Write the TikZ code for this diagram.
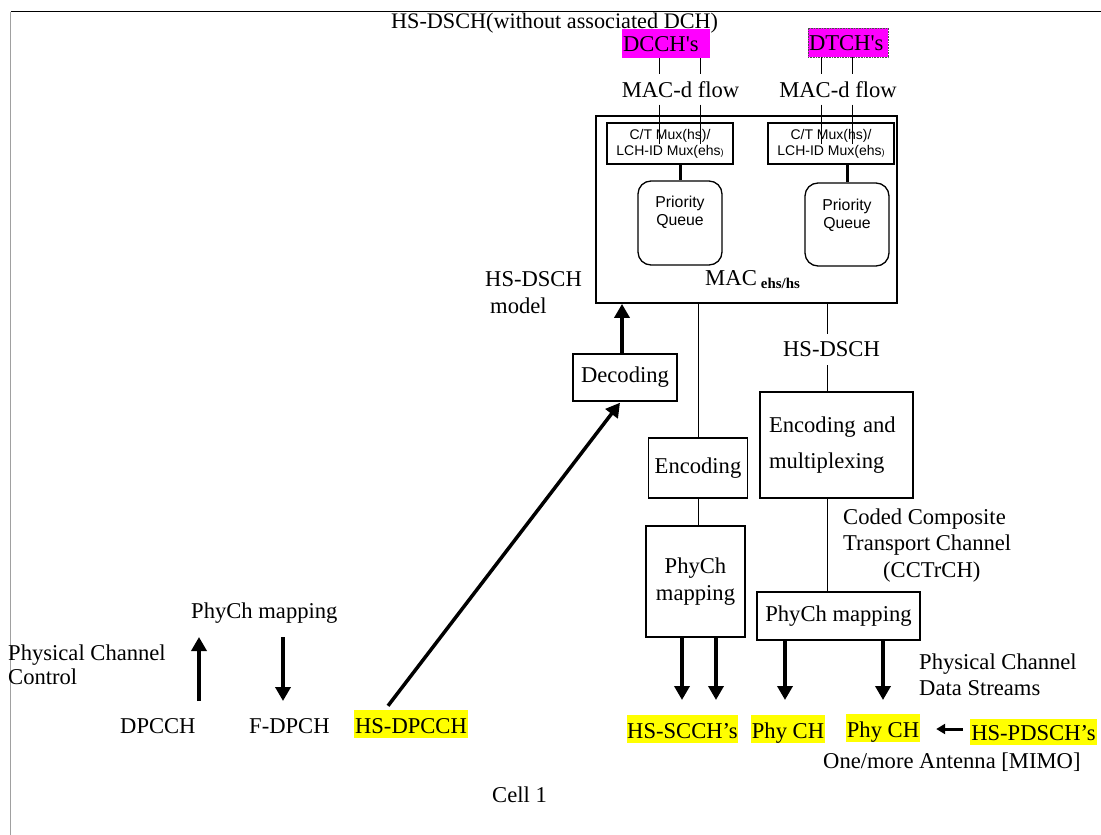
\documentclass[tikz,border=0pt]{standalone}
\usepackage{fontspec}
\setmainfont{Liberation Serif}
\newfontfamily\sansf{Liberation Sans}
\usetikzlibrary{arrows.meta,calc}
\newcommand{\fmain}{\fontsize{22.6}{26}\selectfont}
\newcommand{\fct}{\sansf\fontsize{14}{16}\selectfont}
\newcommand{\fpq}{\sansf\fontsize{15.8}{18}\selectfont}
\definecolor{framegray}{HTML}{A0A0A0}
\definecolor{hlmag}{RGB}{255,0,255}
\definecolor{hlyel}{RGB}{255,255,0}
\begin{document}
\begin{tikzpicture}[x=1pt,y=-1pt,
  txt/.style={inner sep=0pt, font=\fmain},
  box/.style={draw, line width=1.4pt, inner sep=0pt},
  pq/.style={draw, line width=1.3pt, rounded corners=13pt, minimum width=84pt, minimum height=84pt, inner sep=0pt},
  conn/.style={line width=1pt},
  heavy/.style={line width=3pt},
  arr/.style={line width=3.5pt, -{Triangle[length=14pt,width=15pt]}},
  sarr/.style={line width=3pt, -{Triangle[length=9pt,width=10pt]}},
  ylw/.style={fill=hlyel, inner sep=0pt, text height=23pt, text depth=5pt, font=\fmain},
  mag/.style={fill=hlmag, inner xsep=1pt, inner ysep=0pt, text height=22.5pt, text depth=6.5pt, align=left, font=\fmain}]
\useasboundingbox (0,0) rectangle (1101,835);
% frame
\coordinate (ftl) at (10.5,11.5);
\coordinate (ftr) at (1101,11.5);
\coordinate (fbl) at (10.5,835);
\draw[line width=1.2pt] (ftl) -- (ftr);
\draw[line width=1.1pt, framegray] (ftl) -- (fbl);
% title
\node[txt, anchor=base west, font=\fontsize{22.2}{26}\selectfont] (title) at (391,28) {HS-DSCH(without associated DCH)};
% logical channels
\node[mag, text width=86pt] (dcch) at (666,43.5) {DCCH\textquotesingle s};
\node[mag, text width=78pt, draw=black!70, densely dotted, line width=0.6pt] (dtch) at (848,42.5) {DTCH\textquotesingle s};
\node[txt, inner ysep=7pt] (mdfL) at (680.5,89.3) {MAC-d flow};
\node[txt, inner ysep=7pt] (mdfR) at (838,89.3) {MAC-d flow};
% MAC box
\node[box, line width=1.8pt, minimum width=301pt, minimum height=187pt] (mac) at (746.5,209.5) {};
\node[box, line width=1.3pt, minimum width=126pt, minimum height=41pt, font=\fct, align=center] (ctL) at (670,143.5) {C/T Mux(hs)/\\LCH-ID Mux(ehs{\fontsize{9}{9}\selectfont )}};
\node[box, line width=1.3pt, minimum width=126pt, minimum height=41pt, font=\fct, align=center] (ctR) at (831,143.5) {C/T Mux(hs)/\\LCH-ID Mux(ehs{\fontsize{9}{9}\selectfont )}};
\node[pq] (pqL) at (680,223) {};
\node[pq, minimum height=83pt] (pqR) at (847,224.5) {};
\node[inner sep=0pt, font=\fpq, align=center] (pqLt) at (680,212) {Priority\\Queue};
\node[inner sep=0pt, font=\fpq, align=center] (pqRt) at (847,215) {Priority\\Queue};
\node[txt, anchor=base west, font=\fontsize{22.7}{26}\selectfont] (maclbl) at (705,285) {MAC\hspace{4pt}\raisebox{-3pt}{\fontsize{14.9}{16}\selectfont\bfseries ehs/hs}};
% flow lines
\coordinate (f1) at (659,0);
\coordinate (f2) at (700,0);
\coordinate (f3) at (821,0);
\coordinate (f4) at (852,0);
\draw[conn] (f1 |- dcch.south) -- (f1 |- mdfL.north);
\draw[conn] (f2 |- dcch.south) -- (f2 |- mdfL.north);
\draw[conn] (f1 |- mdfL.south) -- (f1 |- ctL.center);
\draw[conn] (f2 |- mdfL.south) -- (f2 |- ctL.center);
\draw[conn] (f3 |- dtch.south) -- (f3 |- mdfR.north);
\draw[conn] (f4 |- dtch.south) -- (f4 |- mdfR.north);
\draw[conn] (f3 |- mdfR.south) -- (f3 |- ctR.center);
\draw[conn] (f4 |- mdfR.south) -- (f4 |- ctR.center);
\draw[heavy] (ctL.south -| pqL.north) -- (pqL.north);
\draw[heavy] (ctR.south -| pqR.north) -- (pqR.north);
% HS-DSCH model
\node[txt, anchor=north west, align=left, font=\fontsize{22.6}{27}\selectfont] (hsmodel) at (485,271) {HS-DSCH\\\hspace*{5pt}model};
% uplink decoding
\node[box, minimum width=104pt, minimum height=47pt, font=\fmain] (dec) at (625,377.5) {Decoding};
\coordinate (decup) at ($(dec.north)+(-3,0)$);
\draw[arr] (decup) -- (decup |- mac.south);
% left downlink chain
\node[box, minimum width=99pt, minimum height=60pt, font=\fmain] (enc) at (698,468) {Encoding};
\node[box, minimum width=99pt, minimum height=111pt, align=center, font=\fontsize{22.6}{27}\selectfont] (pmL) at (695.5,581.5) {PhyCh\\mapping};
\draw[conn] (enc.north |- mac.south) -- (enc.north);
\draw[conn] (enc.south) -- (enc.south |- pmL.north);
% right downlink chain
\coordinate (xr) at (827,0);
\node[txt, inner ysep=8pt] (hsd) at (831.5,349.5) {HS-DSCH};
\node[box, text width=135pt, inner xsep=9pt, inner ysep=0pt, minimum height=106pt, align=left, font=\fontsize{22.6}{36}\selectfont] (emb) at (836.5,445) {Encoding and\\multiplexing};
\node[box, minimum width=163pt, minimum height=48pt, font=\fmain] (pmR) at (838.5,616) {PhyCh mapping};
\draw[conn] (xr |- mac.south) -- (xr |- hsd.north);
\draw[conn] (xr |- hsd.south) -- (xr |- emb.north);
\draw[conn] (xr |- emb.south) -- (xr |- pmR.north);
\node[txt, anchor=north west, align=left, font=\fontsize{22.6}{26.5}\selectfont] (cct) at (843,508.6) {Coded Composite\\Transport Channel\\\hspace*{40pt}(CCTrCH)};
% physical channels
\node[ylw, minimum width=114pt] (hsdp) at (411,724) {HS-DPCCH};
\node[ylw, minimum width=109pt] (hsscch) at (682.5,729) {HS-SCCH’s};
\node[ylw, minimum width=74pt] (phy1) at (788,729) {Phy CH};
\node[ylw, minimum width=74pt] (phy2) at (883,728) {Phy CH};
\node[ylw, minimum width=127pt, text height=21pt] (hspd) at (1033.5,732) {HS-PDSCH’s};
\coordinate (bx1) at (682,0);
\coordinate (bx2) at (716,0);
\coordinate (bx3) at (785,0);
\coordinate (bx4) at (883,0);
\coordinate (tipy) at (0,700);
\draw[arr] (bx1 |- pmL.south) -- (bx1 |- tipy);
\draw[arr] (bx2 |- pmL.south) -- (bx2 |- tipy);
\draw[arr] (bx3 |- pmR.south) -- (bx3 |- tipy);
\draw[arr] (bx4 |- pmR.south) -- (bx4 |- tipy);
\coordinate (pa) at ($(hspd.west)+(-7,-3)$);
\coordinate (pb) at ($(phy2.east)+(16,1)$);
\draw[sarr] (pa) -- (pb);
\node[txt, anchor=north west, align=left, font=\fontsize{22.6}{26}\selectfont] (pcds) at (919,653.6) {Physical Channel\\Data Streams};
\node[txt, anchor=base west] (mimo) at (823,768) {One/more Antenna [MIMO]};
% diagonal HS-DPCCH -> Decoding
\coordinate (diagS) at ($(hsdp.north)+(-23,-4)$);
\coordinate (diagE) at ($(dec.south)+(-5,1)$);
\draw[arr] (diagS) -- (diagE);
% left side
\node[txt, anchor=north west, align=left, font=\fontsize{22.6}{24}\selectfont] (pcc) at (8,644.6) {Physical Channel\\Control};
\node[txt, anchor=base west] (pcm) at (191,618) {PhyCh mapping};
\node[txt, anchor=base west] (dpcch) at (120,733) {DPCCH};
\node[txt, anchor=base west] (fdpch) at (249,733) {F-DPCH};
\coordinate (u1) at (199,701);
\coordinate (u2) at (199,637);
\coordinate (d1) at (283,637);
\coordinate (d2) at (283,701);
\draw[arr] (u1) -- (u2);
\draw[arr] (d1) -- (d2);
\node[txt, anchor=base west] (cell) at (492,802) {Cell 1};
\end{tikzpicture}
\end{document}
